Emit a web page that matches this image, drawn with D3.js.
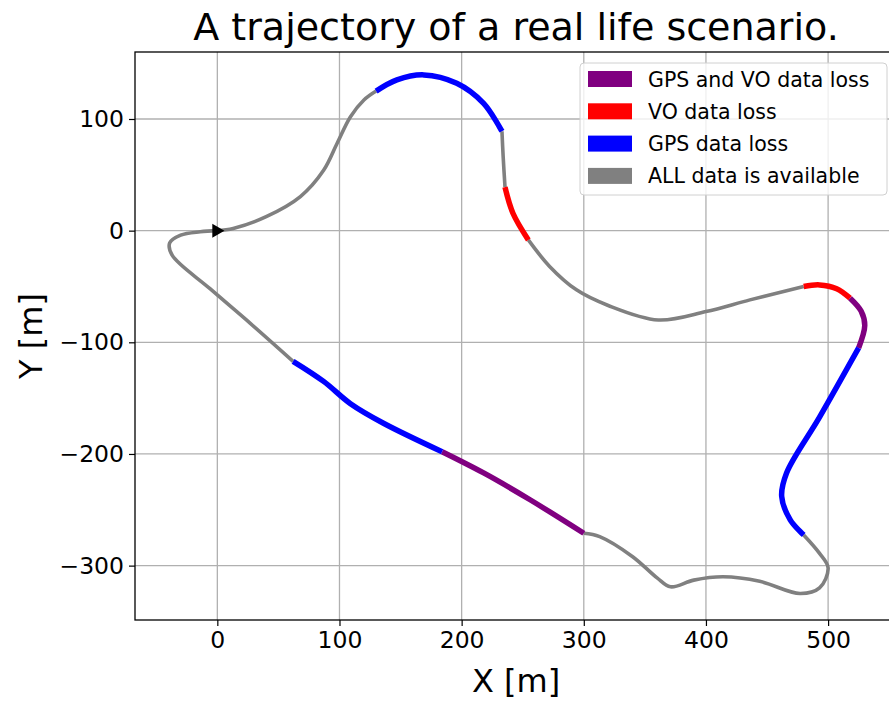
<!DOCTYPE html>
<html>
<head>
<meta charset="utf-8">
<script src="https://cdn.jsdelivr.net/npm/d3@7"></script>
<style>
  body { margin: 0; background: #fff; }
  svg text { font-family: "DejaVu Sans", sans-serif; fill: #000; }
</style>
</head>
<body>
<div id="chart"></div>
<script>
// trajectory pieces, in driving order [x, y] in metres
const startGray = [[0,0],[13,2],[40,12.5],[68,30.5],[87,54],[98,78],[109,102],[120,117],[130,125]];
const arcBlue = [[130,125],[147,135],[169,139.5],[196,132],[218,114],[233,89]];
const dropGray = [[233,89],[234,66],[235.5,39]];
const dropRed = [[235.5,39],[242,15.6],[254.6,-8.3]];
const midGray = [[254.6,-8.3],[272,-32],[294,-53],[320,-67],[361,-80],[400,-72.5],[436,-62],[480,-50]];
const cornerRed = [[480,-50],[493,-48.6],[507,-52],[518,-60.5]];
const cornerPurple = [[518,-60.5],[527,-72],[530,-85],[525,-105]];
const eastBlue = [[525,-105],[493,-167],[466,-217],[462,-238],[469,-259],[480,-272.5]];
const southGray = [[480,-272.5],[493,-289],[500,-302],[493,-320],[477,-325],[444,-314],[414,-310],[390,-313],[371,-319],[360,-311],[340,-292],[313,-274],[300,-271]];
const southPurple = [[300,-271],[256,-241],[218,-217],[184,-198]];
const westBlue = [[184,-198],[136,-172.5],[109,-155],[87,-135],[62,-117]];
const endGray = [[62,-117],[27,-83],[-6,-52],[-37,-22],[-39,-11],[-30,-4],[-14,-1],[0,0]];

const statusNames = ["GPS and VO data loss", "VO data loss", "GPS data loss", "ALL data is available"];
const statusColors = ["purple", "red", "blue", "gray"];

const segments = [
  [startGray, 3], [arcBlue, 2], [dropGray, 3], [dropRed, 1], [midGray, 3],
  [cornerRed, 1], [cornerPurple, 0], [eastBlue, 2], [southGray, 3],
  [southPurple, 0], [westBlue, 2], [endGray, 3]
];

const xTicks = [0, 100, 200, 300, 400, 500];
const yTicks = [-300, -200, -100, 0, 100];

const W = 889, H = 701;
const pLeft = 135, pRight = 897, pTop = 52, pBottom = 620;

const svg = d3.select("#chart").append("svg")
    .attr("width", W)
    .attr("height", H);

const x = d3.scaleLinear().domain([-67.4, 556.4]).range([pLeft, pRight]);
const y = d3.scaleLinear().domain([-348.7, 160.0]).range([pBottom, pTop]);

// grid
svg.append("g").selectAll("line").data(xTicks).join("line")
    .attr("x1", d => x(d)).attr("x2", d => x(d))
    .attr("y1", pTop).attr("y2", pBottom)
    .attr("stroke", "#b0b0b0").attr("stroke-width", 1.3);
svg.append("g").selectAll("line").data(yTicks).join("line")
    .attr("x1", pLeft).attr("x2", pRight)
    .attr("y1", d => y(d)).attr("y2", d => y(d))
    .attr("stroke", "#b0b0b0").attr("stroke-width", 1.3);

// trajectory
const line = d3.line()
    .x(d => x(d[0]))
    .y(d => y(d[1]))
    .curve(d3.curveCatmullRom.alpha(0.5));

const plot = svg.append("g");
segments.filter(s => s[1] === 3).forEach(s => {
    plot.append("path").datum(s[0])
        .attr("fill", "none")
        .attr("stroke", statusColors[s[1]])
        .attr("stroke-width", 3.6)
        .attr("d", line);
});
segments.filter(s => s[1] !== 3).forEach(s => {
    plot.append("path").datum(s[0])
        .attr("fill", "none")
        .attr("stroke", statusColors[s[1]])
        .attr("stroke-width", 5.5)
        .attr("d", line);
});

// start marker
svg.append("path")
    .attr("d", d3.symbol().type(d3.symbolTriangle).size(85)())
    .attr("transform", `translate(${x(startGray[0][0]) - 1},${y(startGray[0][1])}) rotate(90)`)
    .attr("fill", "#000");

// frame
svg.append("rect")
    .attr("x", pLeft).attr("y", pTop)
    .attr("width", pRight - pLeft).attr("height", pBottom - pTop)
    .attr("fill", "none").attr("stroke", "#000").attr("stroke-width", 1.3);

// axes
const fmt = d3.format("d");
const xAxis = svg.append("g")
    .attr("transform", `translate(0,${pBottom})`)
    .call(d3.axisBottom(x).tickValues(xTicks).tickFormat(fmt).tickSize(6).tickPadding(5));
const yAxis = svg.append("g")
    .attr("transform", `translate(${pLeft},0)`)
    .call(d3.axisLeft(y).tickValues(yTicks).tickFormat(fmt).tickSize(6).tickPadding(5));
[xAxis, yAxis].forEach(a => {
    a.select(".domain").remove();
    a.selectAll("line").attr("stroke", "#000").attr("stroke-width", 1.2);
    a.selectAll("text").attr("font-size", 23.5).attr("font-family", "DejaVu Sans");
});

// labels
svg.append("text")
    .attr("x", (pLeft + pRight) / 2).attr("y", 40)
    .attr("text-anchor", "middle").attr("font-size", 38)
    .text("A trajectory of a real life scenario.");
svg.append("text")
    .attr("x", (pLeft + pRight) / 2).attr("y", 692)
    .attr("text-anchor", "middle").attr("font-size", 32)
    .text("X [m]");
svg.append("text")
    .attr("transform", `translate(42,${(pTop + pBottom) / 2}) rotate(-90)`)
    .attr("text-anchor", "middle").attr("font-size", 32)
    .text("Y [m]");

// legend
const lg = svg.append("g");
lg.append("rect")
    .attr("x", 580).attr("y", 63)
    .attr("width", 307).attr("height", 132)
    .attr("rx", 4)
    .attr("fill", "#fff").attr("fill-opacity", 0.8)
    .attr("stroke", "#d0d0d0").attr("stroke-width", 1);
const items = lg.selectAll("g.item").data(statusNames).join("g")
    .attr("transform", (d, i) => `translate(0,${79 + i * 32.3})`);
items.append("rect")
    .attr("x", 588).attr("y", -8)
    .attr("width", 44).attr("height", 16)
    .attr("fill", (d, i) => statusColors[i]);
items.append("text")
    .attr("x", 648).attr("y", 7.5)
    .attr("font-size", 20.5)
    .text(d => d);
</script>
</body>
</html>
